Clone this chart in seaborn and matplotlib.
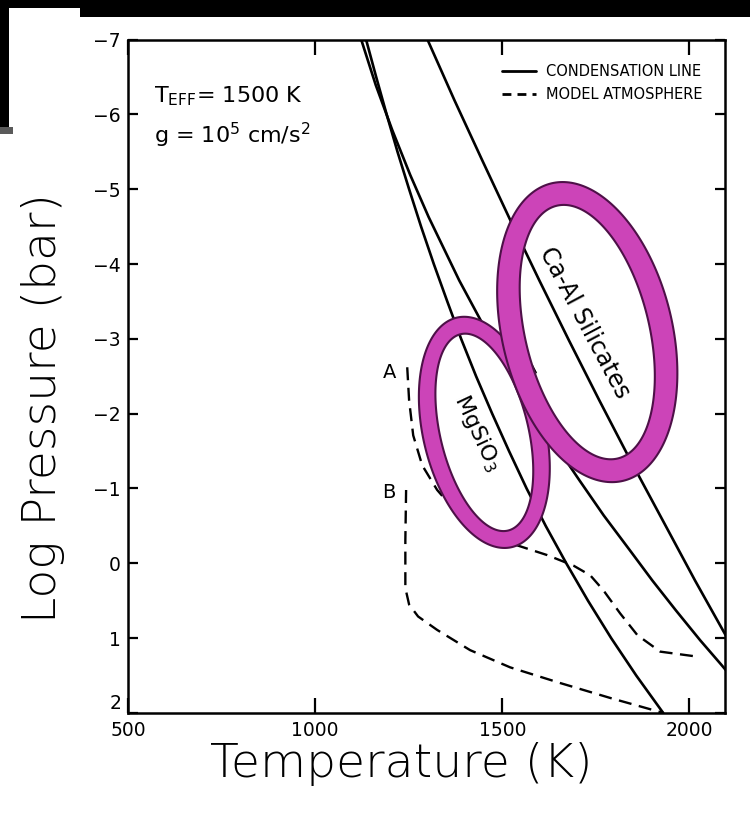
import numpy as np
import matplotlib
matplotlib.use("Agg")
import matplotlib.pyplot as plt
import matplotlib.transforms as mtransforms
from matplotlib.path import Path
from matplotlib.patches import PathPatch, Rectangle
from matplotlib.lines import Line2D
from matplotlib import font_manager as fm
import seaborn as sns

# ---------------------------------------------------------------------------
# Condensation curves (solid): temperature [K] vs log10 pressure [bar]
mgsio3_logp = [-7.0, -6.5, -6.0, -5.5, -5.0, -4.5, -4.0, -3.5, -3.0, -2.5,
               -2.0, -1.5, -1.0, -0.5, 0.0, 0.5, 1.0, 1.5, 2.0]
mgsio3_temp = [1136, 1163, 1191, 1220, 1251, 1283, 1317, 1353, 1390, 1430,
               1473, 1518, 1565, 1616, 1671, 1729, 1791, 1858, 1930]

fe_logp = [-7.0, -6.39, -5.79, -5.19, -4.63, -3.78, -2.98, -2.17, -1.64,
           -1.11, -0.64, -0.18, 0.23, 0.63, 1.03, 1.36, 1.70]
fe_temp = [1123, 1162, 1206, 1254, 1303, 1385, 1471, 1566, 1634,
           1706, 1771, 1840, 1901, 1964, 2029, 2086, 2143]

caal_logp = [-7.0, -6.19, -5.39, -4.59, -3.78, -2.98, -2.18, -1.38, -0.58,
             0.23, 0.90, 1.30]
caal_temp = [1300, 1372, 1446, 1521, 1599, 1678, 1759, 1842, 1928,
             2015, 2090, 2135]

# Model atmospheres (dashed)
model_a_logp = [-2.62, -2.18, -1.71, -1.31, -0.98, -0.62, -0.38, -0.24, -0.11,
                0.03, 0.16, 0.36, 0.67, 0.96, 1.18, 1.24]
model_a_temp = [1246, 1251, 1262, 1286, 1326, 1388, 1468, 1540, 1620,
                1690, 1735, 1770, 1815, 1861, 1922, 2011]

model_b_logp = [-0.98, -0.31, 0.33, 0.55, 0.71, 0.89, 1.16, 1.39, 1.60, 1.80, 2.0]
model_b_temp = [1243, 1241, 1241, 1251, 1275, 1326, 1414, 1521, 1655, 1789, 1931]

x_ticks = [500, 1000, 1500, 2000]
y_ticks = [-7, -6, -5, -4, -3, -2, -1, 0, 1, 2]

# Highlighted condensation zones: centre (T, logP)
mgsio3_zone = (1452, -1.75)
caal_zone = (1727, -3.09)

# ---------------------------------------------------------------------------
sns.set_theme(style="ticks")
fonts = fm.fontManager.ttflist
light_dejavu = any(f.name == "DejaVu Sans" and isinstance(f.weight, int) and f.weight <= 300
                   for f in fonts)
if light_dejavu:
    TITLE_FONT, TITLE_SIZE, TITLE_WEIGHT = "DejaVu Sans", 34, 200
else:
    TITLE_FONT, TITLE_SIZE, TITLE_WEIGHT = "Lato", 38, 300

plt.rcParams["font.family"] = ["DejaVu Sans"]
plt.rcParams["axes.unicode_minus"] = True
for key in ["text.color", "axes.labelcolor", "xtick.color", "ytick.color",
            "axes.edgecolor"]:
    plt.rcParams[key] = "black"

fig = plt.figure(figsize=(7.5, 8.14), dpi=100, facecolor="white")
W, H = 750.0, 814.0
ax = fig.add_axes([128 / W, 1 - 713 / H, (725 - 128) / W, (713 - 39.5) / H])
ax.set_facecolor("white")

solid_kw = dict(color="black", lw=1.9, sort=False, estimator=None, ax=ax,
                legend=False, zorder=2)
dash_kw = dict(color="black", lw=1.7, sort=False, estimator=None, ax=ax,
               legend=False, zorder=2, linestyle=(0, (5.5, 3.2)))

sns.lineplot(x=mgsio3_temp, y=mgsio3_logp, **solid_kw)
sns.lineplot(x=fe_temp, y=fe_logp, **solid_kw)
sns.lineplot(x=caal_temp, y=caal_logp, **solid_kw)
sns.lineplot(x=model_a_temp, y=model_a_logp, **dash_kw)
sns.lineplot(x=model_b_temp, y=model_b_logp, **dash_kw)

ax.set_xlim(500, 2095)
ax.set_ylim(2, -7)
ax.set_xticks(x_ticks)
ax.set_yticks(y_ticks)
ax.set_xlabel("")
ax.set_ylabel("")
for s in ax.spines.values():
    s.set_linewidth(1.8)
    s.set_color("black")
ax.tick_params(axis="x", direction="in", length=10.5, width=1.6, top=True,
               labelsize=13.5, pad=6, colors="black")
ax.tick_params(axis="y", direction="in", length=7.5, width=1.6, right=True,
               labelsize=13.5, pad=5, colors="black")
# the bottom-most pressure label sits just above the corner
ax.get_yticklabels()[-1].set_verticalalignment("bottom")

# Annotations inside the panel
ax.text(0.044, 0.906, r"$\mathregular{T_{EFF}}$= 1500 K", transform=ax.transAxes,
        fontsize=16, va="baseline", ha="left")
ax.text(0.044, 0.846, r"g = $\mathregular{10^{5}}$ cm/s$\mathregular{^{2}}$",
        transform=ax.transAxes, fontsize=16, va="baseline", ha="left")
ax.text(1198, -2.555, "A", fontsize=14, ha="center", va="center")
ax.text(1198, -0.95, "B", fontsize=14, ha="center", va="center")
ax.text(1433, -1.74, r"MgSiO$\mathregular{_3}$", fontsize=16, rotation=-65,
        rotation_mode="anchor", ha="center", va="center", zorder=3)
ax.text(1720, -3.22, "Ca-Al Silicates", fontsize=17, rotation=-62,
        rotation_mode="anchor", ha="center", va="center", zorder=3)
ax.text(1567, -2.45, "Fe", fontsize=15, rotation=-62,
        rotation_mode="anchor", ha="center", va="center", zorder=3)

handles = [Line2D([], [], color="black", lw=2.0),
           Line2D([], [], color="black", lw=2.0, linestyle=(0, (3.2, 2.2)))]
ax.legend(handles, ["CONDENSATION LINE", "MODEL ATMOSPHERE"], loc="upper right",
          bbox_to_anchor=(0.962, 0.963), frameon=False, fontsize=10.5,
          handlelength=2.3, handletextpad=0.7, labelspacing=0.5,
          borderpad=0, borderaxespad=0)


def ring(a_out, b_out, a_in, b_in, angle_deg):
    t = np.linspace(0, 2 * np.pi, 241)
    th = np.deg2rad(angle_deg)
    rot = np.array([[np.cos(th), -np.sin(th)], [np.sin(th), np.cos(th)]])
    outer = np.c_[b_out * np.cos(t), a_out * np.sin(t)] @ rot.T
    inner = (np.c_[b_in * np.cos(t), a_in * np.sin(t)] @ rot.T)[::-1]
    n = len(t)
    codes = [Path.MOVETO] + [Path.LINETO] * (n - 2) + [Path.CLOSEPOLY]
    return Path(np.vstack([outer, inner]), codes + codes)


ring_face = "#CC44B8"
ring_edge = "#4E1048"
for centre, sizes, z in [(mgsio3_zone, (1.18, 0.61, 1.01, 0.44), 5),
                         (caal_zone, (1.53, 0.85, 1.30, 0.62), 6)]:
    tr = fig.dpi_scale_trans + mtransforms.ScaledTranslation(centre[0], centre[1],
                                                            ax.transData)
    ax.add_patch(PathPatch(ring(*sizes, 13.6), transform=tr, facecolor=ring_face,
                           edgecolor=ring_edge, lw=1.5, zorder=z, clip_on=False))

# Axis titles
fig.text(401 / W, 1 - 764 / H, "Temperature (K)", fontsize=TITLE_SIZE,
         family=TITLE_FONT, weight=TITLE_WEIGHT, ha="center", va="center",
         color="black")
fig.text(43 / W, 1 - 408 / H, "Log Pressure (bar)", fontsize=TITLE_SIZE,
         family=TITLE_FONT, weight=TITLE_WEIGHT, ha="center", va="center",
         rotation=90, color="black")

# Dark slide border
for (x0, y0, x1, y1, c) in [(0, 0, 750, 8, "black"), (80, 0, 750, 17, "black"),
                            (0, 0, 9, 127, "black"), (0, 127, 13, 134, "#5a5a5a")]:
    fig.add_artist(Rectangle((x0 / W, 1 - y1 / H), (x1 - x0) / W, (y1 - y0) / H,
                             transform=fig.transFigure, color=c, lw=0, zorder=10))

fig.savefig("out.png", dpi=100, facecolor="white")
